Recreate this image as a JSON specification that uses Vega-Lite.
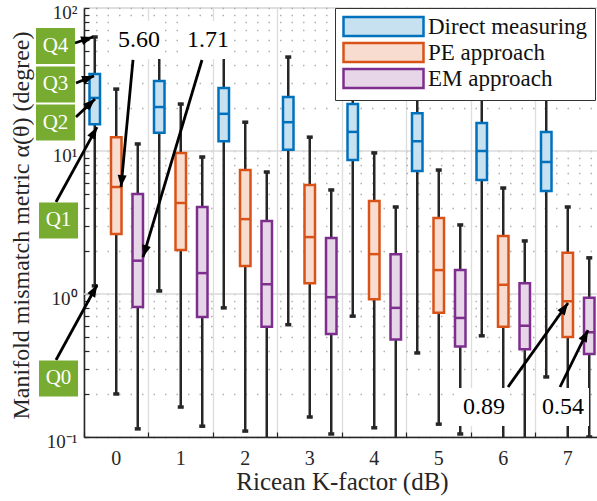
{
"$schema": "https://vega.github.io/schema/vega-lite/v6.json",
"width": 516,
"height": 429,
"autosize": {"type": "none"},
"padding": {"left": 84, "top": 8, "right": 0, "bottom": 64},
"background": "white",
"config": {
  "font": "Liberation Serif",
  "view": {"stroke": "#d4d4d4", "strokeWidth": 1.5},
  "legend": {
    "labelFont": "Liberation Serif", "labelFontSize": 23, "labelColor": "#111111",
    "symbolType": "M-1,-0.95H7V0.95H-1Z", "symbolSize": 400, "symbolStrokeWidth": 2.5, "symbolOpacity": 1,
    "labelOffset": 63, "padding": 7, "rowPadding": -3,
    "strokeColor": "#333333", "fillColor": "white"
  }
},
"datasets": {
  "boxes": [
    {"k": 0, "method": "Direct measuring", "lower": 1.14, "q1": 15.4, "median": 23.5, "q3": 34.5, "upper": 62.7},
    {"k": 0, "method": "PE approach", "lower": 0.2, "q1": 2.63, "median": 5.6, "q3": 12.5, "upper": 27.1},
    {"k": 0, "method": "EM approach", "lower": 0.114, "q1": 0.81, "median": 1.71, "q3": 5.0, "upper": 11.2},
    {"k": 1, "method": "Direct measuring", "lower": 1.05, "q1": 13.4, "median": 20.3, "q3": 30.9, "upper": 55},
    {"k": 1, "method": "PE approach", "lower": 0.162, "q1": 2.03, "median": 4.33, "q3": 9.7, "upper": 21.3},
    {"k": 1, "method": "EM approach", "lower": 0.119, "q1": 0.69, "median": 1.4, "q3": 4.06, "upper": 9.08},
    {"k": 2, "method": "Direct measuring", "lower": 0.8, "q1": 11.7, "median": 18.2, "q3": 27.6, "upper": 50},
    {"k": 2, "method": "PE approach", "lower": 0.11, "q1": 1.57, "median": 3.34, "q3": 7.36, "upper": 15.9},
    {"k": 2, "method": "EM approach", "lower": 0.07, "q1": 0.59, "median": 1.17, "q3": 3.24, "upper": 7.13},
    {"k": 3, "method": "Direct measuring", "lower": 0.61, "q1": 10.2, "median": 15.9, "q3": 23.9, "upper": 45.4},
    {"k": 3, "method": "PE approach", "lower": 0.138, "q1": 1.19, "median": 2.5, "q3": 5.78, "upper": 12.5},
    {"k": 3, "method": "EM approach", "lower": 0.105, "q1": 0.525, "median": 0.95, "q3": 2.46, "upper": 5.34},
    {"k": 4, "method": "Direct measuring", "lower": 0.7, "q1": 8.65, "median": 13.6, "q3": 21.3, "upper": 40},
    {"k": 4, "method": "PE approach", "lower": 0.116, "q1": 0.92, "median": 1.9, "q3": 4.47, "upper": 9.7},
    {"k": 4, "method": "EM approach", "lower": 0.07, "q1": 0.48, "median": 0.8, "q3": 1.9, "upper": 4.06},
    {"k": 5, "method": "Direct measuring", "lower": 0.387, "q1": 7.25, "median": 11.7, "q3": 18.4, "upper": 35},
    {"k": 5, "method": "PE approach", "lower": 0.123, "q1": 0.74, "median": 1.47, "q3": 3.4, "upper": 7.36},
    {"k": 5, "method": "EM approach", "lower": 0.105, "q1": 0.43, "median": 0.68, "q3": 1.47, "upper": 3.04},
    {"k": 6, "method": "Direct measuring", "lower": 0.51, "q1": 6.27, "median": 10, "q3": 15.7, "upper": 30},
    {"k": 6, "method": "PE approach", "lower": 0.08, "q1": 0.59, "median": 1.16, "q3": 2.54, "upper": 5.51},
    {"k": 6, "method": "EM approach", "lower": 0.06, "q1": 0.41, "median": 0.6, "q3": 1.19, "upper": 2.35},
    {"k": 7, "method": "Direct measuring", "lower": 0.263, "q1": 5.25, "median": 8.38, "q3": 13.6, "upper": 27},
    {"k": 7, "method": "PE approach", "lower": 0.07, "q1": 0.5, "median": 0.89, "q3": 1.94, "upper": 4.06},
    {"k": 7, "method": "EM approach", "lower": 0.1, "q1": 0.38, "median": 0.54, "q3": 0.94, "upper": 1.79}
  ],
  "decades": [{"v": 1}, {"v": 10}],
  "arrows": [
    {"k1": -0.64, "v1": 56.9, "k2": -0.36, "v2": 62.7},
    {"k1": -0.624, "v1": 29.9, "k2": -0.345, "v2": 33.5},
    {"k1": -0.624, "v1": 17.3, "k2": -0.329, "v2": 23.1},
    {"k1": -0.934, "v1": 4.4, "k2": -0.298, "v2": 14.7},
    {"k1": -0.934, "v1": 0.3455, "k2": -0.298, "v2": 1.156},
    {"k1": 0.26, "v1": 43.3, "k2": 0.074, "v2": 5.6},
    {"k1": 1.329, "v1": 43.3, "k2": 0.415, "v2": 1.81},
    {"k1": 6.074, "v1": 0.2237, "k2": 7.004, "v2": 0.865},
    {"k1": 6.88, "v1": 0.2237, "k2": 7.314, "v2": 0.56}
  ],
  "qlabels": [
    {"label": "Q4", "k": -0.942, "v": 54.3},
    {"label": "Q3", "k": -0.942, "v": 29.2},
    {"label": "Q2", "k": -0.942, "v": 15.8},
    {"label": "Q1", "k": -0.895, "v": 3.27},
    {"label": "Q0", "k": -0.895, "v": 0.2566}
  ],
  "nlabels": [
    {"label": "5.60", "k": 0.3527, "v": 59.7},
    {"label": "1.71", "k": 1.4225, "v": 59.7},
    {"label": "0.89", "k": 5.702, "v": 0.1622},
    {"label": "0.54", "k": 6.926, "v": 0.1622}
  ]
},
"resolve": {"scale": {"x": "independent"}},
"layer": [
  {
    "data": {"name": "decades"},
    "mark": {"type": "rule", "color": "#dadada", "strokeWidth": 1.3},
    "encoding": {
      "y": {
        "field": "v", "type": "quantitative",
        "scale": {"type": "log", "domain": [0.1, 100]},
        "axis": {
          "orient": "left",
          "title": "Manifold mismatch metric α(θ) (degree)",
          "titleFontSize": 24, "titleFontWeight": "normal", "titleColor": "#262626",
          "titleAngle": -90, "titleX": -56, "titleY": 217, "titleAlign": "center", "titleBaseline": "alphabetic",
          "values": [0.1, 0.2, 0.3, 0.4, 0.5, 0.6, 0.7, 0.8, 0.9, 1, 2, 3, 4, 5, 6, 7, 8, 9, 10, 20, 30, 40, 50, 60, 70, 80, 90, 100],
          "labelExpr": "datum.value == 100 ? '10²' : datum.value == 10 ? '10¹' : datum.value == 1 ? '10⁰' : datum.value == 0.1 ? '10⁻¹' : ''",
          "labelFontSize": 19, "labelColor": "#262626", "labelPadding": 12, "labelOffset": 4, "labelBaseline": "middle",
          "labelOverlap": false, "labelBound": false, "labelFlush": false,
          "tickSize": -5, "tickColor": "#262626", "tickWidth": 1.2,
          "domainColor": "#262626", "domainWidth": 1.5,
          "grid": true, "gridColor": "#b0b0b0", "gridDash": [1.5, 10], "gridWidth": 1.3
        }
      }
    }
  },
  {
    "data": {"name": "boxes"},
    "encoding": {
      "x": {
        "field": "k", "type": "ordinal",
        "scale": {"paddingInner": 0, "paddingOuter": 0},
        "axis": {
          "title": "Ricean K-factor (dB)", "titleFontSize": 25, "titleFontWeight": "normal", "titleColor": "#262626",
          "titleX": 258, "titleY": 52, "titleBaseline": "alphabetic", "titleAlign": "center",
          "labelAngle": 0, "labelFontSize": 20, "labelColor": "#262626", "labelPadding": 16, "labelBaseline": "top",
          "bandPosition": 0,
          "tickSize": -5, "tickColor": "#262626", "tickWidth": 1.2,
          "domainColor": "#262626", "domainWidth": 1.5,
          "grid": true, "gridColor": "#dddddd", "gridWidth": 1.3
        }
      },
      "xOffset": {
        "field": "method", "type": "nominal",
        "scale": {"domain": ["Direct measuring", "PE approach", "EM approach"], "paddingInner": 0, "paddingOuter": 0}
      }
    },
    "layer": [
      {
        "mark": {"type": "rule", "color": "#262626", "strokeWidth": 2.5, "clip": true},
        "encoding": {
          "y": {"field": "lower", "type": "quantitative", "scale": {"type": "log", "domain": [0.1, 100]}},
          "y2": {"field": "upper"}
        }
      },
      {
        "mark": {"type": "tick", "color": "#262626", "size": 6, "thickness": 3.5, "clip": true, "opacity": 1},
        "encoding": {
          "y": {"field": "upper", "type": "quantitative", "scale": {"type": "log", "domain": [0.1, 100]}}
        }
      },
      {
        "mark": {"type": "tick", "color": "#262626", "size": 6, "thickness": 3.5, "clip": true, "opacity": 1},
        "encoding": {
          "y": {"field": "lower", "type": "quantitative", "scale": {"type": "log", "domain": [0.1, 100]}}
        }
      },
      {
        "mark": {"type": "bar", "width": 10.5, "strokeWidth": 2.5, "opacity": 1},
        "encoding": {
          "y": {"field": "q1", "type": "quantitative", "scale": {"type": "log", "domain": [0.1, 100]}},
          "y2": {"field": "q3"},
          "fill": {
            "field": "method", "type": "nominal",
            "scale": {"domain": ["Direct measuring", "PE approach", "EM approach"], "range": ["#c8e1f1", "#f8dccf", "#e6d6e8"]},
            "legend": {"orient": "none", "legendX": 251, "legendY": 0, "title": null}
          },
          "stroke": {
            "field": "method", "type": "nominal",
            "scale": {"domain": ["Direct measuring", "PE approach", "EM approach"], "range": ["#0072bd", "#d95319", "#7e2f8e"]},
            "legend": {"orient": "none", "legendX": 251, "legendY": 0, "title": null}
          }
        }
      },
      {
        "mark": {"type": "tick", "size": 10.5, "thickness": 2.5, "opacity": 1},
        "encoding": {
          "y": {"field": "median", "type": "quantitative", "scale": {"type": "log", "domain": [0.1, 100]}},
          "color": {
            "field": "method", "type": "nominal",
            "scale": {"domain": ["Direct measuring", "PE approach", "EM approach"], "range": ["#0072bd", "#d95319", "#7e2f8e"]},
            "legend": null
          }
        }
      }
    ]
  },
  {
    "layer": [
      {
        "data": {"name": "nlabels"},
        "mark": {"type": "point", "shape": "M-1,-0.731H1V0.731H-1Z", "size": 2704, "filled": true, "color": "white", "opacity": 1},
        "encoding": {
          "x": {"field": "k", "type": "quantitative", "scale": {"type": "linear", "domain": [-0.5, 7.5], "nice": false, "zero": false}, "axis": null},
          "y": {"field": "v", "type": "quantitative", "scale": {"type": "log", "domain": [0.1, 100]}}
        }
      },
      {
        "data": {"name": "arrows"},
        "mark": {"type": "rule", "color": "black", "strokeWidth": 2.8},
        "encoding": {
          "x": {"field": "k1", "type": "quantitative", "scale": {"type": "linear", "domain": [-0.5, 7.5], "nice": false, "zero": false}, "axis": null},
          "x2": {"field": "k2"},
          "y": {"field": "v1", "type": "quantitative", "scale": {"type": "log", "domain": [0.1, 100]}},
          "y2": {"field": "v2"}
        }
      },
      {
        "data": {"name": "arrows"},
        "transform": [{"calculate": "atan2((datum.k2 - datum.k1) * 64.5, (log(datum.v2) - log(datum.v1)) / LN10 * 143) * 180 / PI", "as": "angle"}],
        "mark": {"type": "point", "shape": "M0,0L0.6,1.6L-0.6,1.6Z", "size": 225, "filled": true, "color": "black", "opacity": 1},
        "encoding": {
          "x": {"field": "k2", "type": "quantitative", "scale": {"type": "linear", "domain": [-0.5, 7.5], "nice": false, "zero": false}, "axis": null},
          "y": {"field": "v2", "type": "quantitative", "scale": {"type": "log", "domain": [0.1, 100]}},
          "angle": {"field": "angle", "type": "quantitative", "scale": null}
        }
      },
      {
        "data": {"name": "qlabels"},
        "mark": {"type": "point", "shape": "M-1,-0.923H1V0.923H-1Z", "size": 1521, "filled": true, "color": "#77ac30", "opacity": 1},
        "encoding": {
          "x": {"field": "k", "type": "quantitative", "scale": {"type": "linear", "domain": [-0.5, 7.5], "nice": false, "zero": false}, "axis": null},
          "y": {"field": "v", "type": "quantitative", "scale": {"type": "log", "domain": [0.1, 100]}}
        }
      },
      {
        "data": {"name": "qlabels"},
        "mark": {"type": "text", "color": "white", "fontSize": 21, "align": "center", "baseline": "middle", "font": "Liberation Serif"},
        "encoding": {
          "x": {"field": "k", "type": "quantitative", "scale": {"type": "linear", "domain": [-0.5, 7.5], "nice": false, "zero": false}, "axis": null},
          "y": {"field": "v", "type": "quantitative", "scale": {"type": "log", "domain": [0.1, 100]}},
          "text": {"field": "label"}
        }
      },
      {
        "data": {"name": "nlabels"},
        "mark": {"type": "text", "color": "black", "fontSize": 24, "align": "center", "baseline": "middle", "font": "Liberation Serif"},
        "encoding": {
          "x": {"field": "k", "type": "quantitative", "scale": {"type": "linear", "domain": [-0.5, 7.5], "nice": false, "zero": false}, "axis": null},
          "y": {"field": "v", "type": "quantitative", "scale": {"type": "log", "domain": [0.1, 100]}},
          "text": {"field": "label"}
        }
      }
    ]
  }
]
}
